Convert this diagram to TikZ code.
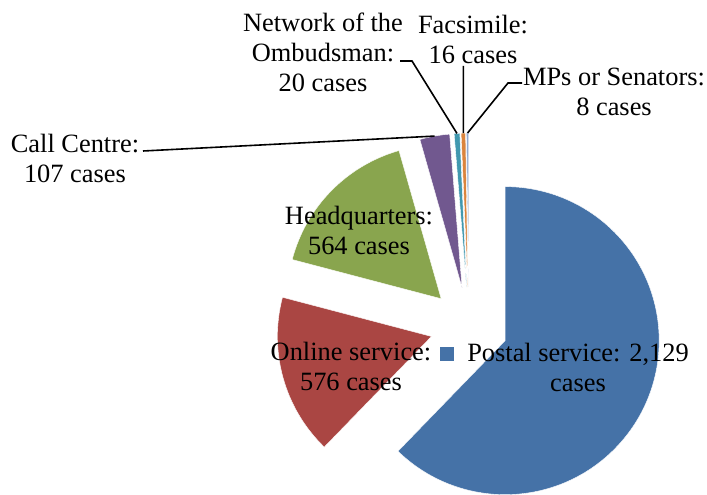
\documentclass[tikz,border=0pt]{standalone}
\usepackage{fontspec}
\setmainfont{Liberation Serif}
\usetikzlibrary{calc}
\definecolor{postal}{HTML}{4572A7}
\definecolor{online}{HTML}{AA4643}
\definecolor{hq}{HTML}{89A54E}
\definecolor{call}{HTML}{71588F}
\definecolor{network}{HTML}{4198AF}
\definecolor{fax}{HTML}{DB843D}
\definecolor{mps}{HTML}{93A9CF}
\tikzset{
  lbl/.style = {align=center, inner sep=0pt, font=\fontsize{26.4}{30}\selectfont},
  lead/.style = {draw=black, line width=1.6pt}
}
\begin{document}
\begin{tikzpicture}[x=1pt, y=1pt]
   \useasboundingbox (0,0) rectangle (707,495);
   \coordinate (C) at (469,169);
   % slices, each pushed out from the centre along its middle
   \foreach \name/\from/\to in {postal/-134.105/90, online/165.263/225.895, hq/105.895/165.263,
      call/94.632/105.895, network/92.526/94.632, fax/90.842/92.526, mps/90/90.842} {
      \pgfmathsetmacro\mid{(\from+\to)/2}
      \coordinate (\name-apex) at ($(C)+(\mid:39)$);
      \coordinate (\name-edge) at ($(\name-apex)+(\mid:154)$);
      \filldraw[fill=\name, draw=white, line width=0.4pt] (\name-apex) -- ++(\from:154)
         arc[start angle=\from, end angle=\to, radius=154] -- cycle;
   }
   \node[lbl] (postal-lbl) at (578,127.5) {Postal service: 2,129\\cases};
   \node[fill=postal, minimum size=14pt, inner sep=0pt] (postal-key) at (447,141) {};
   \node[lbl] (online-lbl) at (351,129) {Online service:\\576 cases};
   \node[lbl] (hq-lbl) at (359,265) {Headquarters:\\564 cases};
   \node[lbl] (call-lbl) at (75,337) {Call Centre:\\107 cases};
   \node[lbl] (network-lbl) at (323,443) {Network of the\\Ombudsman:\\20 cases};
   \node[lbl] (fax-lbl) at (473,456) {Facsimile:\\16 cases};
   \node[lbl] (mps-lbl) at (614,403) {MPs or Senators:\\8 cases};
   \coordinate (call-end) at (143,344);
   \coordinate (network-end) at (400,434);
   \coordinate (fax-end) at (463.3,429);
   \coordinate (mps-end) at (522,412);
   \draw[lead] (call-end) -- (call-edge);
   \draw[lead] (network-end) -- ++(12,0) -- (network-edge);
   \draw[lead] (fax-end) -- (fax-edge);
   \draw[lead] (mps-end) -- ++(-14,0) -- (mps-edge);
\end{tikzpicture}
\end{document}
